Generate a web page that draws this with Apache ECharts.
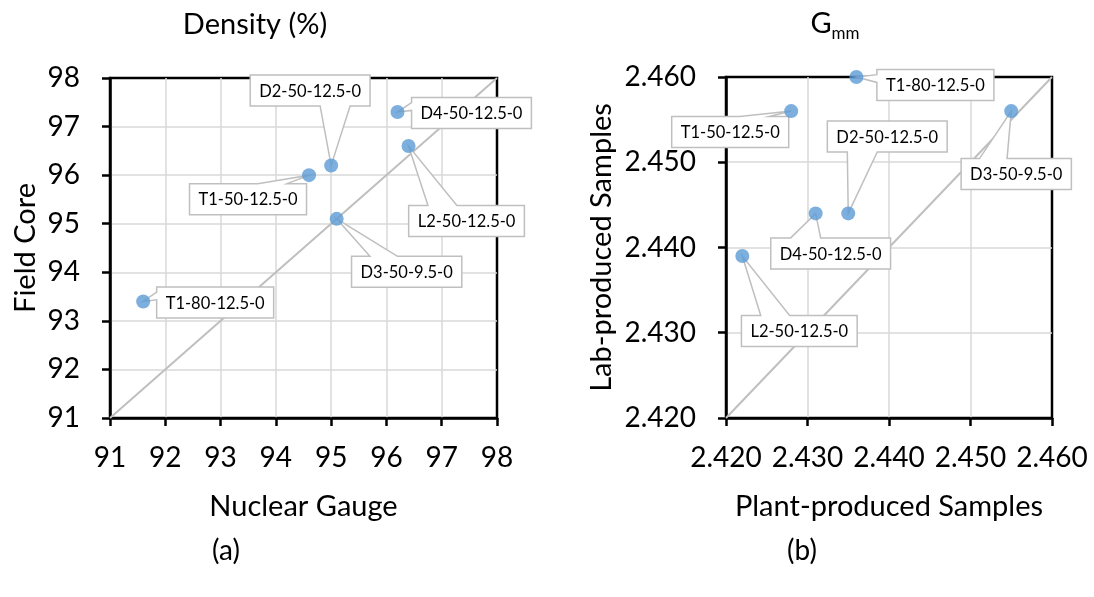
<!DOCTYPE html>
<html>
<head>
<meta charset="utf-8">
<script src="https://cdn.jsdelivr.net/npm/echarts@6/dist/echarts.min.js"></script>
<style>
  html, body { margin: 0; padding: 0; background: #fff; }
  #chart { width: 1094px; height: 597px; }
</style>
</head>
<body>
<div id="chart"></div>
<script>
// Panel (a): density, nuclear gauge vs field core
const densityNames = ['T1-80-12.5-0', 'T1-50-12.5-0', 'D2-50-12.5-0', 'D3-50-9.5-0', 'D4-50-12.5-0', 'L2-50-12.5-0'];
const densityGauge = [91.6, 94.6, 95.0, 95.1, 96.2, 96.4];
const densityCore = [93.4, 96.0, 96.2, 95.1, 97.3, 96.6];
const densityTicks = [91, 92, 93, 94, 95, 96, 97, 98];

// Panel (b): Gmm, plant-produced vs lab-produced samples
const gmmNames = ['T1-80-12.5-0', 'T1-50-12.5-0', 'D2-50-12.5-0', 'D4-50-12.5-0', 'L2-50-12.5-0', 'D3-50-9.5-0'];
const gmmPlant = [2.436, 2.428, 2.435, 2.431, 2.422, 2.455];
const gmmLab = [2.460, 2.456, 2.444, 2.444, 2.439, 2.456];
const gmmTicks = [2.420, 2.430, 2.440, 2.450, 2.460];

// Callout box centre offsets (px) relative to each marker
const densityCalloutOffsets = [[72, 1], [-61, 24], [-21, -75], [70, 53], [74, 1], [58, 75]];
const gmmCalloutOffsets = [[79, 8], [-61, 21], [39, -77], [15, 40], [57, 75], [5, 63]];

const FONT = 'Lato, "Open Sans", sans-serif';
const LABEL_FONT = '16.5px ' + FONT;

const measureCtx = document.createElement('canvas').getContext('2d');
function textWidth(t) {
  measureCtx.font = LABEL_FONT;
  return measureCtx.measureText(t).width;
}

// Rectangular callout with a wedge pointing at (px, py)
function wedgeRectPoints(l, t, w, h, px, py) {
  const r = l + w, b = t + h;
  const hc = l + w / 2, vc = t + h / 2;
  const dxPos = px - hc, dyPos = py - vc;
  const dq = dxPos * h / w;
  const dz = Math.abs(dyPos) - Math.abs(dq);
  const x1 = l + w * (dxPos > 0 ? 7 : 2) / 12;
  const x2 = l + w * (dxPos > 0 ? 10 : 5) / 12;
  const y1 = t + h * (dyPos > 0 ? 7 : 2) / 12;
  const y2 = t + h * (dyPos > 0 ? 10 : 5) / 12;
  const pts = [[l, t]];
  if (dz > 0 && dyPos < 0) pts.push([x1, t], [px, py], [x2, t]);
  pts.push([r, t]);
  if (dz <= 0 && dxPos > 0) pts.push([r, y1], [px, py], [r, y2]);
  pts.push([r, b]);
  if (dz > 0 && dyPos > 0) pts.push([x2, b], [px, py], [x1, b]);
  pts.push([l, b]);
  if (dz <= 0 && dxPos <= 0) pts.push([l, y2], [px, py], [l, y1]);
  return pts;
}

function calloutRenderer(names, offsets) {
  return function (params, api) {
    const i = params.dataIndex;
    const p = api.coord([api.value(0), api.value(1)]);
    const w = textWidth(names[i]) + 18;
    const h = 31;
    const cx = p[0] + offsets[i][0];
    const cy = p[1] + offsets[i][1];
    return {
      type: 'group',
      children: [
        {
          type: 'polygon',
          shape: { points: wedgeRectPoints(cx - w / 2, cy - h / 2, w, h, p[0], p[1]) },
          style: { fill: '#ffffff', stroke: '#bfbfbf', lineWidth: 1.5 }
        },
        {
          type: 'text',
          x: cx, y: cy + 1,
          style: { text: names[i], font: LABEL_FONT, fill: '#000', align: 'center', verticalAlign: 'middle' }
        }
      ]
    };
  };
}

function zip(a, b) { return a.map((v, i) => [v, b[i]]); }

function valueAxis(ticks, gridIndex, name, isX, gap, digits) {
  return {
    type: 'value',
    gridIndex: gridIndex,
    min: ticks[0],
    max: ticks[ticks.length - 1],
    interval: ticks[1] - ticks[0],
    name: name,
    nameLocation: 'middle',
    nameGap: gap,
    nameTextStyle: { fontFamily: FONT, fontSize: 29, color: '#000' },
    axisLine: { show: true, onZero: false, lineStyle: { color: '#000000', width: 2.5 } },
    axisTick: { show: true, inside: false, length: 8, lineStyle: { color: '#000000', width: 2.5 } },
    axisLabel: {
      fontFamily: FONT, fontSize: 28, color: '#000',
      margin: isX ? 26 : 30,
      formatter: v => v.toFixed(digits)
    },
    splitLine: { show: true, showMinLine: false, showMaxLine: false, lineStyle: { color: '#d9d9d9', width: 1.5 } }
  };
}

const chart = echarts.init(document.getElementById('chart'), null, { renderer: 'canvas' });

chart.setOption({
  animation: false,
  backgroundColor: '#ffffff',
  grid: [
    { left: 110, top: 78, width: 387, height: 340, show: true, borderColor: '#000000', borderWidth: 2.5 },
    { left: 726, top: 77, width: 326, height: 341, show: true, borderColor: '#000000', borderWidth: 2.5 }
  ],
  xAxis: [
    valueAxis(densityTicks, 0, 'Nuclear Gauge', true, 74, 0),
    valueAxis(gmmTicks, 1, 'Plant-produced Samples', true, 74, 3)
  ],
  yAxis: [
    valueAxis(densityTicks, 0, 'Field Core', false, 70, 0),
    valueAxis(gmmTicks, 1, 'Lab-produced Samples', false, 110, 3)
  ],
  graphic: [
    { type: 'text', x: 255, y: 25, style: { text: 'Density (%)', font: '29px ' + FONT, fill: '#000', align: 'center', verticalAlign: 'middle' } },
    {
      type: 'text', x: 835, y: 27,
      style: {
        text: '{g|G}{s|mm}',
        align: 'center', verticalAlign: 'middle',
        rich: {
          g: { fontFamily: FONT, fontSize: 29, color: '#000', lineHeight: 36, verticalAlign: 'top' },
          s: { fontFamily: FONT, fontSize: 17, color: '#000', lineHeight: 36, verticalAlign: 'top', padding: [16, 0, 0, 0] }
        }
      }
    },
    { type: 'text', x: 226, y: 551, style: { text: '(a)', font: '28px ' + FONT, fill: '#000', align: 'center', verticalAlign: 'middle' } },
    { type: 'text', x: 802, y: 551, style: { text: '(b)', font: '28px ' + FONT, fill: '#000', align: 'center', verticalAlign: 'middle' } }
  ],
  series: [
    {
      type: 'line', xAxisIndex: 0, yAxisIndex: 0, z: 1,
      data: [[densityTicks[0], densityTicks[0]], [densityTicks[densityTicks.length - 1], densityTicks[densityTicks.length - 1]]],
      symbol: 'none', silent: true,
      lineStyle: { color: '#bfbfbf', width: 2 }
    },
    {
      type: 'line', xAxisIndex: 1, yAxisIndex: 1, z: 1,
      data: [[gmmTicks[0], gmmTicks[0]], [gmmTicks[gmmTicks.length - 1], gmmTicks[gmmTicks.length - 1]]],
      symbol: 'none', silent: true,
      lineStyle: { color: '#bfbfbf', width: 2 }
    },
    {
      type: 'custom', xAxisIndex: 0, yAxisIndex: 0, z: 3, clip: false,
      data: zip(densityGauge, densityCore),
      encode: { x: 0, y: 1 },
      renderItem: calloutRenderer(densityNames, densityCalloutOffsets)
    },
    {
      type: 'custom', xAxisIndex: 1, yAxisIndex: 1, z: 3, clip: false,
      data: zip(gmmPlant, gmmLab),
      encode: { x: 0, y: 1 },
      renderItem: calloutRenderer(gmmNames, gmmCalloutOffsets)
    },
    {
      type: 'scatter', xAxisIndex: 0, yAxisIndex: 0, z: 5,
      data: zip(densityGauge, densityCore),
      symbolSize: 14,
      itemStyle: { color: '#5b9bd5' }
    },
    {
      type: 'scatter', xAxisIndex: 1, yAxisIndex: 1, z: 5,
      data: zip(gmmPlant, gmmLab),
      symbolSize: 14,
      itemStyle: { color: '#5b9bd5' }
    }
  ]
});
</script>
</body>
</html>
